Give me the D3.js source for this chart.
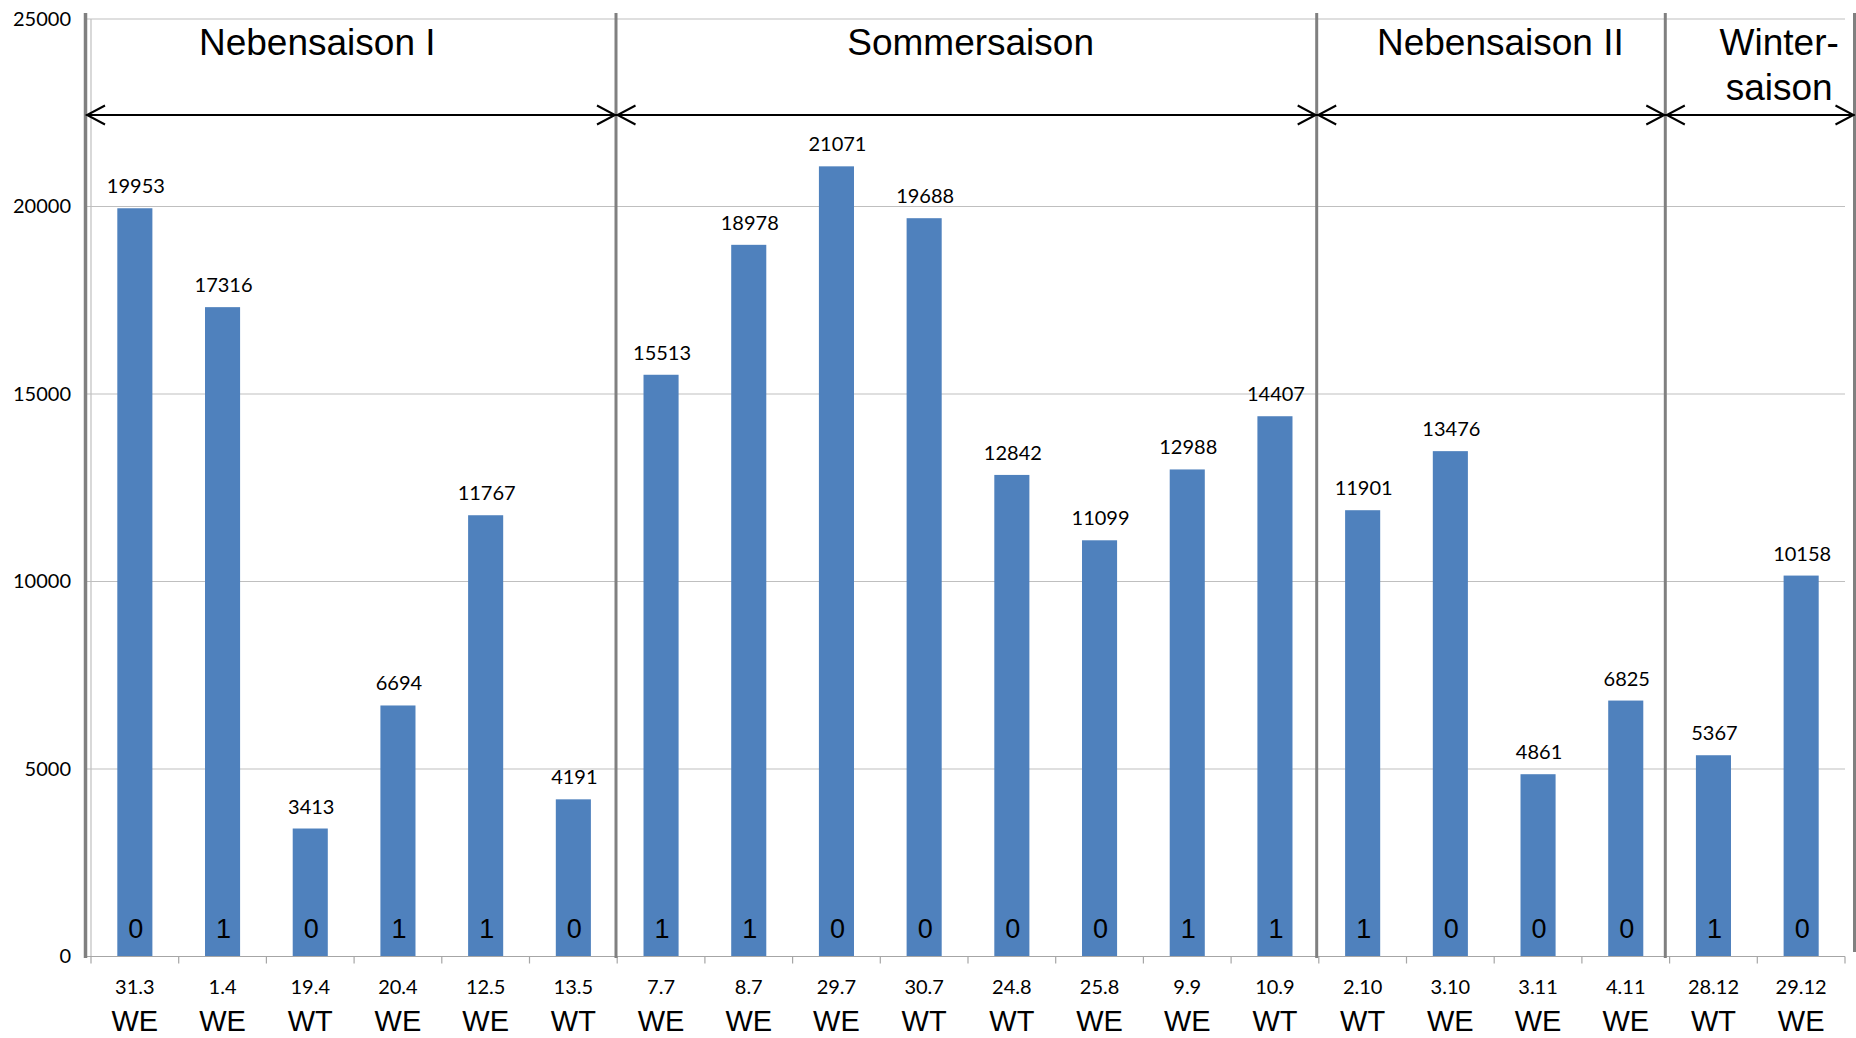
<!DOCTYPE html>
<html>
<head>
<meta charset="utf-8">
<script src="https://cdn.jsdelivr.net/npm/d3@7"></script>
<style>
  html, body { margin: 0; padding: 0; background: #ffffff; }
  svg { display: block; }
</style>
</head>
<body>
<svg id="chart" width="1856" height="1038"></svg>
<script>
// ---------------- data ----------------
const dates    = ["31.3","1.4","19.4","20.4","12.5","13.5","7.7","8.7","29.7","30.7","24.8","25.8","9.9","10.9","2.10","3.10","3.11","4.11","28.12","29.12"];
const dayTypes = ["WE","WE","WT","WE","WE","WT","WE","WE","WE","WT","WT","WE","WE","WT","WT","WE","WE","WE","WT","WE"];
const values   = [19953,17316,3413,6694,11767,4191,15513,18978,21071,19688,12842,11099,12988,14407,11901,13476,4861,6825,5367,10158];
const flags    = [0,1,0,1,1,0,1,1,0,0,0,0,1,1,1,0,0,0,1,0];
const yTicks   = [0,5000,10000,15000,20000,25000];
const seasonNames  = [["Nebensaison I"],["Sommersaison"],["Nebensaison II"],["Winter-","saison"]];
const seasonBounds = [0,6,14,18,20];   // category boundaries

// ---------------- layout ----------------
const plot = { left: 91, right: 1845, top: 19, bottom: 956.5 };
const sepOffsets = [-5.5, -1.2, -2.1, -4.3, 9.5];
const seasonLabelPos = [2.58, 10.03, 16.07, 19.25]; // in category units
const numFont = "Lato, 'Open Sans', sans-serif";
const txtFont = "'Liberation Sans', Arial, sans-serif";

const svg = d3.select("#chart");

const x = d3.scaleBand().domain(d3.range(values.length)).range([plot.left, plot.right]).padding(0);
const bw = x.bandwidth();
const xPos = u => plot.left + u * bw;   // position by category unit
const y = d3.scaleLinear().domain([0, 25000]).range([plot.bottom, plot.top]);

// gridlines
svg.append("g").selectAll("line").data(yTicks.filter(d => d > 0)).join("line")
  .attr("x1", plot.left - 4).attr("x2", plot.right)
  .attr("y1", d => y(d)).attr("y2", d => y(d))
  .attr("stroke", "#bfbfbf").attr("stroke-width", 1.2);

// y axis labels
const yAxis = svg.append("g").attr("transform", `translate(${plot.left},0)`)
  .call(d3.axisLeft(y).tickValues(yTicks).tickSize(0).tickPadding(20).tickFormat(d3.format("d")));
yAxis.select(".domain").remove();
yAxis.selectAll("text").attr("font-family", numFont).attr("font-size", 20).attr("fill", "#000");

// thin y axis line
svg.append("line").attr("x1", plot.left).attr("x2", plot.left)
  .attr("y1", plot.top).attr("y2", plot.bottom)
  .attr("stroke", "#bfbfbf").attr("stroke-width", 1.2);

// bars
svg.append("g").selectAll("rect").data(values).join("rect")
  .attr("x", (d, i) => x(i) + bw * 0.3)
  .attr("width", bw * 0.4)
  .attr("y", d => y(d))
  .attr("height", d => y(0) - y(d))
  .attr("fill", "#4f81bd");

// value labels
svg.append("g").selectAll("text").data(values).join("text")
  .attr("x", (d, i) => x(i) + bw / 2 + 1)
  .attr("y", d => y(d) - 15)
  .attr("text-anchor", "middle")
  .attr("font-family", numFont).attr("font-size", 20).attr("fill", "#000")
  .text(d => d);

// in-bar flags
svg.append("g").selectAll("text").data(flags).join("text")
  .attr("x", (d, i) => x(i) + bw / 2 + 1)
  .attr("y", y(0) - 19)
  .attr("text-anchor", "middle")
  .attr("font-family", txtFont).attr("font-size", 27).attr("fill", "#000")
  .text(d => d);

// category axis line & ticks
svg.append("line").attr("x1", plot.left - 4).attr("x2", plot.right)
  .attr("y1", plot.bottom).attr("y2", plot.bottom)
  .attr("stroke", "#a6a6a6").attr("stroke-width", 1.2);
svg.append("g").selectAll("line").data(d3.range(values.length + 1)).join("line")
  .attr("x1", d => xPos(d)).attr("x2", d => xPos(d))
  .attr("y1", plot.bottom).attr("y2", plot.bottom + 7)
  .attr("stroke", "#a6a6a6").attr("stroke-width", 1.2);

// date labels
svg.append("g").selectAll("text").data(dates).join("text")
  .attr("x", (d, i) => x(i) + bw / 2)
  .attr("y", 994)
  .attr("text-anchor", "middle")
  .attr("font-family", numFont).attr("font-size", 20).attr("fill", "#000")
  .text(d => d);

// day type labels
svg.append("g").selectAll("text").data(dayTypes).join("text")
  .attr("x", (d, i) => x(i) + bw / 2)
  .attr("y", 1031)
  .attr("text-anchor", "middle")
  .attr("font-family", txtFont).attr("font-size", 29).attr("fill", "#000")
  .text(d => d);

// season separators
const sepX = seasonBounds.map((b, i) => xPos(b) + sepOffsets[i]);
svg.append("g").selectAll("line").data(sepX).join("line")
  .attr("x1", d => d).attr("x2", d => d)
  .attr("y1", 13).attr("y2", (d, i) => i === sepX.length - 1 ? 952 : 958)
  .attr("stroke", "#808080").attr("stroke-width", (d, i) => i === 0 ? 3.5 : 3);

// double-headed arrows
const arrowY = 115;
const headL = 18, headW = 9.5;
const ag = svg.append("g").attr("stroke", "#000").attr("fill", "none").attr("stroke-width", 2);
ag.append("line").attr("x1", sepX[0] + 1).attr("x2", sepX[sepX.length - 1])
  .attr("y1", arrowY).attr("y2", arrowY);
for (let s = 0; s < seasonNames.length; s++) {
  const a = sepX[s] + 1.5, b = sepX[s + 1] - 1;
  ag.append("path").attr("d", `M${a + headL},${arrowY - headW}L${a},${arrowY}L${a + headL},${arrowY + headW}`);
  ag.append("path").attr("d", `M${b - headL},${arrowY - headW}L${b},${arrowY}L${b - headL},${arrowY + headW}`);
}

// season titles
const tg = svg.append("g");
seasonNames.forEach((lines, s) => {
  const t = tg.append("text")
    .attr("x", xPos(seasonLabelPos[s]))
    .attr("y", 55)
    .attr("text-anchor", "middle")
    .attr("font-family", txtFont).attr("font-size", 37).attr("fill", "#000");
  lines.forEach((ln, k) => {
    t.append("tspan").attr("x", xPos(seasonLabelPos[s])).attr("dy", k === 0 ? 0 : 45).text(ln);
  });
});
</script>
</body>
</html>
